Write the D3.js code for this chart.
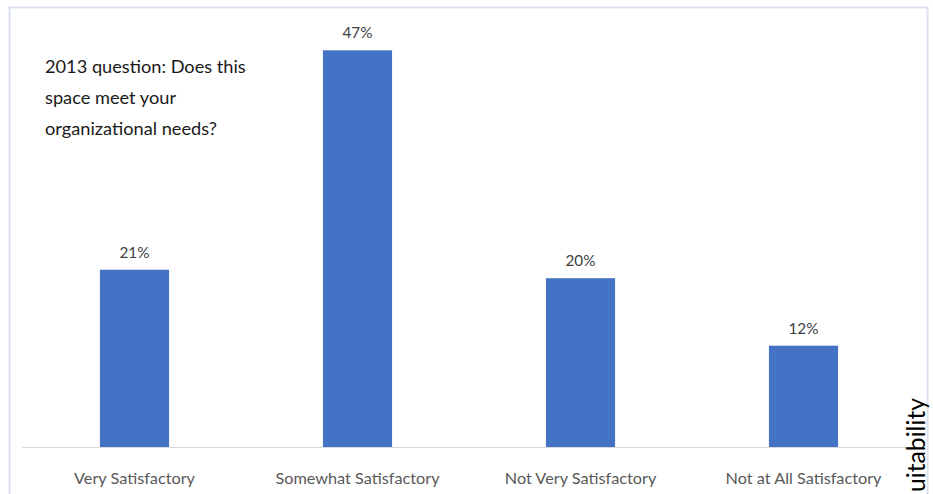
<!DOCTYPE html>
<html>
<head>
<meta charset="utf-8">
<script src="https://cdn.jsdelivr.net/npm/d3@7"></script>
<style>
  html, body { margin: 0; padding: 0; background: #ffffff; overflow: hidden; }
  svg { display: block; }
</style>
</head>
<body>
<svg id="chart" width="933" height="494"></svg>
<script>
// Survey responses (share of respondents, %)
const categories = ["Very Satisfactory", "Somewhat Satisfactory", "Not Very Satisfactory", "Not at All Satisfactory"];
const values = [21, 47, 20, 12];
const valueLabels = ["21%", "47%", "20%", "12%"];
const titleLines = ["2013 question: Does this", "space meet your", "organizational needs?"];
const sideLabel = "uitability";

const W = 933, H = 494;
const font = "Lato, 'Open Sans', sans-serif";
const svg = d3.select("#chart");

// Scale a text's font size so its rendered width matches a target width
function fitWidth(sel, target) {
  sel.each(function () {
    const node = this;
    const fs = parseFloat(node.style.fontSize);
    const w = node.getComputedTextLength();
    if (w > 0) node.style.fontSize = (fs * target / w).toFixed(2) + "px";
  });
}

// Chart frame
svg.append("rect")
  .attr("x", 9.5).attr("y", 7.5)
  .attr("width", 918).attr("height", 500)
  .attr("fill", "#ffffff")
  .attr("stroke", "#dbe3ef")
  .attr("stroke-width", 2);

const x = d3.scaleBand()
  .domain(categories)
  .range([23, 915])
  .paddingInner(0.69)
  .paddingOuter(0.345);

const baseline = 447;
const y = d3.scaleLinear()
  .domain([0, 47])
  .range([baseline, 50.3]);

// Bars
svg.append("g").selectAll("rect")
  .data(categories)
  .join("rect")
  .attr("x", d => x(d))
  .attr("y", (d, i) => y(values[i]))
  .attr("width", x.bandwidth())
  .attr("height", (d, i) => baseline - y(values[i]))
  .attr("fill", "#4472c4");

// Category axis
const axis = svg.append("g")
  .attr("transform", `translate(0,${baseline})`)
  .call(d3.axisBottom(x).tickSize(0).tickPadding(0));
axis.select(".domain")
  .attr("d", "M22,0.5H908")
  .attr("stroke", "#d9d9d9")
  .attr("stroke-width", 1.2);
axis.selectAll(".tick text")
  .attr("y", 37)
  .attr("dy", 0)
  .attr("fill", "#595959")
  .style("font-family", font)
  .style("font-size", "18px");
fitWidth(axis.selectAll(".tick text").filter((d, i) => i === 0), 121);
const catSize = axis.select(".tick text").style("font-size");
axis.selectAll(".tick text").style("font-size", catSize);

// Value labels above bars
const vl = svg.append("g").selectAll("text")
  .data(categories)
  .join("text")
  .attr("x", d => x(d) + x.bandwidth() / 2)
  .attr("y", (d, i) => y(values[i]) - 12)
  .attr("text-anchor", "middle")
  .attr("fill", "#404040")
  .style("font-family", font)
  .style("font-size", "17px")
  .text((d, i) => valueLabels[i]);
fitWidth(vl.filter((d, i) => i === 1), 30);
vl.style("font-size", vl.filter((d, i) => i === 1).style("font-size"));

// Question text
const title = svg.append("text")
  .attr("fill", "#1a1a1a")
  .style("font-family", font)
  .style("font-size", "21px");
title.selectAll("tspan")
  .data(titleLines)
  .join("tspan")
  .attr("x", 45)
  .attr("y", (d, i) => 73 + i * 31)
  .text(d => d);
{
  const first = title.select("tspan").node();
  const w = first.getComputedTextLength();
  const fs = parseFloat(title.style("font-size"));
  title.style("font-size", (fs * 201 / w).toFixed(2) + "px");
}

// Rotated side label, running up the right edge
const side = svg.append("text")
  .attr("transform", "translate(925,398) rotate(-90)")
  .attr("text-anchor", "end")
  .attr("fill", "#000000")
  .style("font-family", font)
  .style("font-size", "27px")
  .text(sideLabel);
fitWidth(side, 94);
</script>
</body>
</html>
